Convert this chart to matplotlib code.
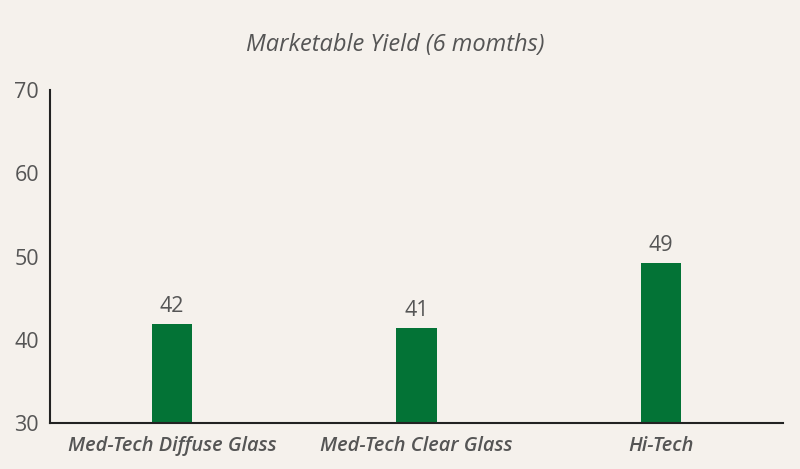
import matplotlib.pyplot as plt

# --- data ---
categories = ['Med-Tech Diffuse Glass', 'Med-Tech Clear Glass', 'Hi-Tech']
yield_vals = [41.9, 41.5, 49.3]
yield_labels = ['42', '41', '49']
y_ticks = [30, 40, 50, 60, 70]

bg = '#f5f1ec'
bar_col = '#037336'
txt_col = '#555555'

fig = plt.figure(figsize=(8, 4.69), dpi=100, facecolor=bg)
ax = fig.add_axes([0.0625, 0.0974, 0.9163, 0.7106])
ax.set_facecolor(bg)

x = range(len(categories))
bars = ax.bar(x, yield_vals, width=0.165, color=bar_col, zorder=2)

# value labels above bars
for b, lab in zip(bars, yield_labels):
    ax.annotate(lab, (b.get_x() + b.get_width() / 2, b.get_height()),
                xytext=(0, 5), textcoords='offset points',
                ha='center', va='bottom', fontsize=15.5, color=txt_col,
                family='Open Sans')

ax.set_xlim(-0.5, 2.5)
ax.set_ylim(30, 70)
ax.set_yticks(y_ticks)
ax.set_xticks(list(x))
ax.set_xticklabels(categories, fontsize=14.4, style='italic', fontweight='semibold',
                   color=txt_col, family='Open Sans')
ax.tick_params(axis='y', length=0, pad=8, labelsize=15.5, labelcolor=txt_col)
ax.tick_params(axis='x', length=0, pad=9)
for t in ax.get_yticklabels():
    t.set_family('Open Sans')

for side in ['top', 'right']:
    ax.spines[side].set_visible(False)
ax.spines['left'].set_color('#222222')
ax.spines['bottom'].set_color('#222222')
ax.spines['left'].set_linewidth(1.5)
ax.spines['bottom'].set_linewidth(1.5)

fig.text(0.494, 0.904, 'Marketable Yield (6 momths)', ha='center', va='center',
         fontsize=17, style='italic', color=txt_col, family='Open Sans')

fig.savefig('out.png', dpi=100, facecolor=bg)
